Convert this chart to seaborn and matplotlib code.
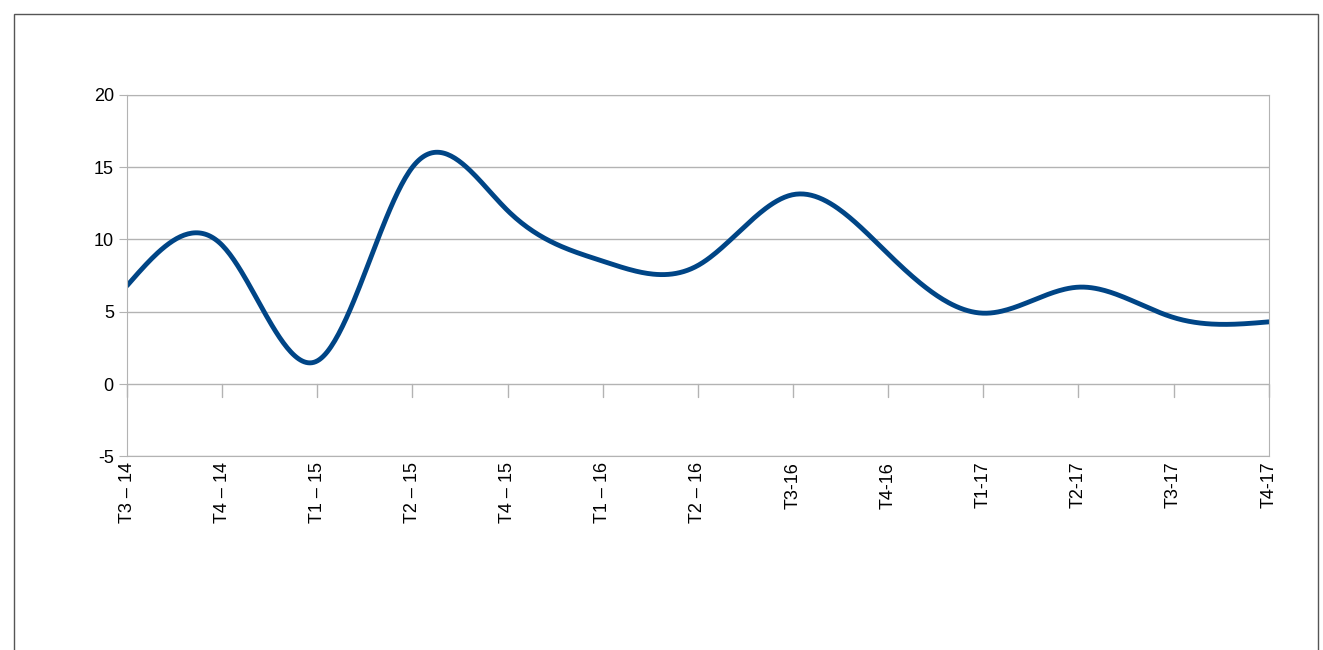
import numpy as np
import matplotlib.pyplot as plt
import seaborn as sns
from matplotlib.patches import Rectangle

labels = ['T3 – 14', 'T4 – 14', 'T1 – 15', 'T2 – 15', 'T4 – 15', 'T1 – 16', 'T2 – 16',
          'T3-16', 'T4-16', 'T1-17', 'T2-17', 'T3-17', 'T4-17']
values = [6.8, 9.6, 1.6, 15.0, 12.0, 8.5, 8.2, 13.1, 9.0, 4.9, 6.7, 4.6, 4.3]


def natural_spline(x, y, n=600):
    # natural cubic spline, like the office "smooth line" option
    x = np.asarray(x, float); y = np.asarray(y, float)
    k = len(x); h = np.diff(x)
    A = np.zeros((k, k)); b = np.zeros(k)
    A[0, 0] = A[-1, -1] = 1
    for i in range(1, k - 1):
        A[i, i - 1] = h[i - 1]; A[i, i] = 2 * (h[i - 1] + h[i]); A[i, i + 1] = h[i]
        b[i] = 3 * ((y[i + 1] - y[i]) / h[i] - (y[i] - y[i - 1]) / h[i - 1])
    c = np.linalg.solve(A, b)
    xs = np.linspace(x[0], x[-1], n)
    idx = np.clip(np.searchsorted(x, xs) - 1, 0, k - 2)
    dx = xs - x[idx]
    bb = (y[idx + 1] - y[idx]) / h[idx] - h[idx] * (2 * c[idx] + c[idx + 1]) / 3
    d = (c[idx + 1] - c[idx]) / (3 * h[idx])
    return xs, y[idx] + bb * dx + c[idx] * dx ** 2 + d * dx ** 3


sns.set_style('white')
plt.rcParams['font.family'] = ['Liberation Sans', 'DejaVu Sans']
plt.rcParams['axes.unicode_minus'] = False
fig = plt.figure(figsize=(13.23, 6.5), dpi=100)
fig.patches.append(Rectangle((14 / 1323, -0.01), 1304 / 1323, 1 - 14 / 650 + 0.01,
                             transform=fig.transFigure, fill=False, ec='#555555', lw=1))
ax = fig.add_axes([0.096, 0.298, 0.863, 0.556])

pos = np.arange(len(labels))
xs, ys = natural_spline(pos, values)
sns.lineplot(x=xs, y=ys, ax=ax, color='#004586', lw=3.5, sort=False)

ax.set_xlim(0, len(labels) - 1)
ax.set_ylim(-5, 20)
ax.set_yticks(range(-5, 21, 5))
ax.set_xticks(pos)
ax.set_xticklabels(labels, rotation=90, fontsize=13, color='black')
ax.tick_params(axis='y', labelsize=13, labelcolor='black', length=6, color='#b3b3b3',
               direction='out', left=True)
ax.tick_params(axis='x', length=0, pad=4)
ax.grid(axis='y', color='#b3b3b3', lw=1)
for s in ax.spines.values():
    s.set_color('#b3b3b3')
# tick marks hanging below the zero line
for p in pos:
    ax.plot([p, p], [0, -0.9], color='#b3b3b3', lw=1, clip_on=False)

fig.savefig('out.png', dpi=100)
